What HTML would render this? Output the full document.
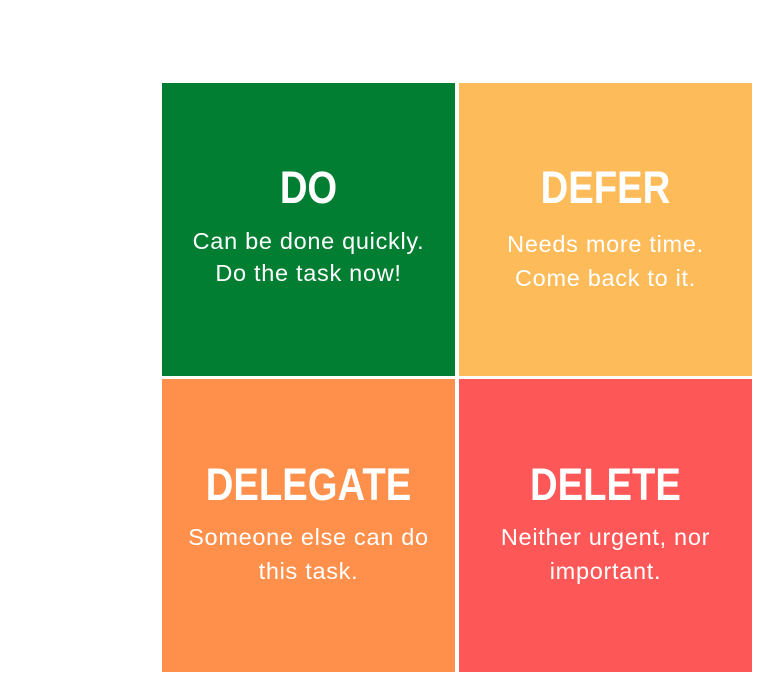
<!DOCTYPE html>
<html><head><style>
body{margin:0;width:767px;height:685px;background:#fff;position:relative;overflow:hidden;font-family:"Liberation Sans",sans-serif;}
.q{position:absolute;width:293px;height:293px;color:#fff;text-align:center;}
.t{position:absolute;left:0;right:0;font-weight:bold;font-size:45px;line-height:46px;transform:scaleX(0.85);}
.s{position:absolute;left:-20px;right:-20px;font-size:23.5px;letter-spacing:0.7px;}
</style></head><body>
<div class="q" style="left:162px;top:83px;background:#027e33">
 <div class="t" style="top:82px">DO</div>
 <div class="s" style="top:142px;line-height:32px">Can be done quickly.<br>Do the task now!</div>
</div>
<div class="q" style="left:459px;top:83px;background:#fdbb5a">
 <div class="t" style="top:82px">DEFER</div>
 <div class="s" style="top:144px;line-height:34px">Needs more time.<br>Come back to it.</div>
</div>
<div class="q" style="left:162px;top:379px;background:#fe904b">
 <div class="t" style="top:83px">DELEGATE</div>
 <div class="s" style="top:141px;line-height:34px">Someone else can do<br>this task.</div>
</div>
<div class="q" style="left:459px;top:379px;background:#fe5757">
 <div class="t" style="top:83px">DELETE</div>
 <div class="s" style="top:141px;line-height:34px">Neither urgent, nor<br>important.</div>
</div>
</body></html>
